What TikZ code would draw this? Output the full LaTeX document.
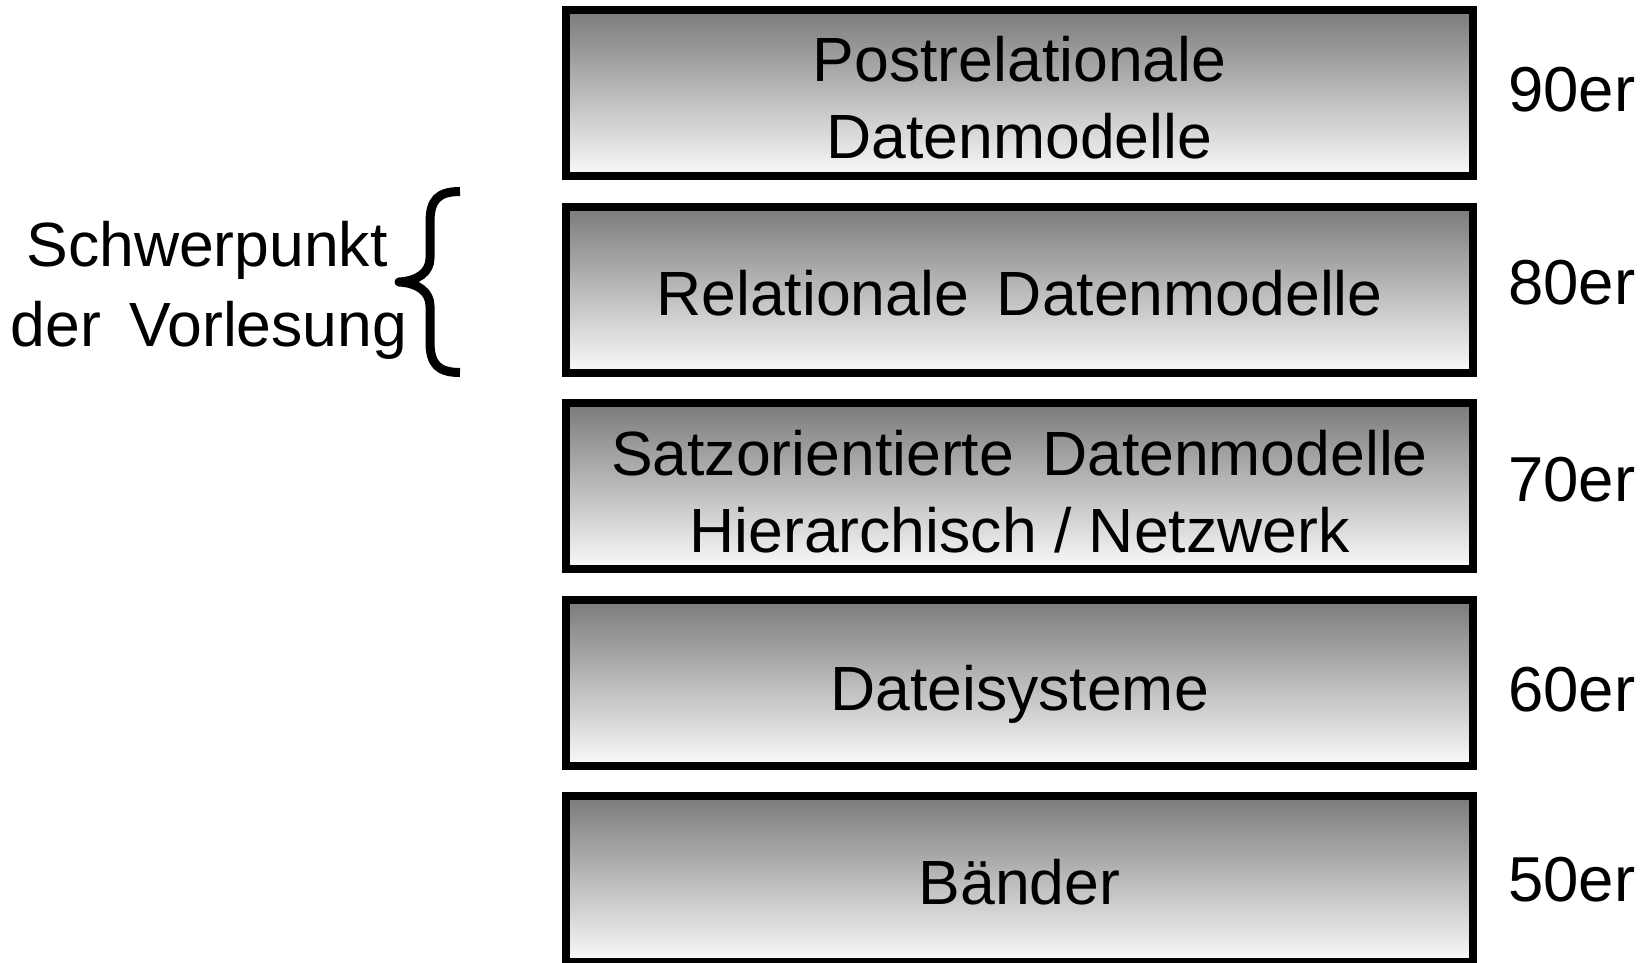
\documentclass[tikz,border=0pt]{standalone}
\usepackage{fontspec}
\setmainfont{Liberation Sans}
\newcommand{\wgap}{\hspace{0.45em}}
\begin{document}
\begin{tikzpicture}[x=1pt,y=-1pt,
  layer/.style={draw=black, line width=8pt, top color=black!52, bottom color=black!2,
    minimum width=907pt, minimum height=166pt, inner sep=0pt, outer sep=0pt},
  txt/.style={inner sep=0pt, font=\fontsize{62.5}{77}\selectfont},
  decade/.style={inner sep=0pt, font=\fontsize{63.5}{77}\selectfont, anchor=base west},
  line/.style={txt, anchor=base}]
\useasboundingbox (0,0) rectangle (1649,962);

% stacked layers, oldest at the bottom
\node[layer] (b1) at (1019.5,93) {};
\node[layer] (b2) at (1019.5,289.5) {};
\node[layer] (b3) at (1019.5,486) {};
\node[layer] (b4) at (1019.5,682.5) {};
\node[layer] (b5) at (1019.5,879) {};

% layer captions
\node[line] (t1a) at (1019.5,81) {Postrelationale};
\node[line] (t1b) at (1019.5,158) {Datenmodelle};
\node[line] (t2) at (1019.5,315.5) {Relationale\wgap Datenmodelle};
\node[line] (t3a) at (1019.5,475) {Satzorientierte\wgap Datenmodelle};
\node[line] (t3b) at (1019.5,552) {Hierarchisch / Netzwerk};
\node[line] (t4) at (1019.5,710) {Dateisysteme};
\node[line] (t5) at (1019.5,904.5) {Bänder};

% decades
\node[decade] (d90) at (1508,111.7) {90er};
\node[decade] (d80) at (1508,304) {80er};
\node[decade] (d70) at (1508,501) {70er};
\node[decade] (d60) at (1508,711.7) {60er};
\node[decade] (d50) at (1508,901) {50er};

% focus of the lecture
\node[line] (s1) at (207,266) {Schwerpunkt};
\node[line] (s2) at (209,346.7) {der\wgap Vorlesung};
\coordinate (bt) at (460,191.5);
\coordinate (bb) at (460,372.5);
\draw[line width=9pt, line join=round] (bt)
  .. controls (438,191.5) and (430,200) .. (430,222) -- (430,258)
  .. controls (430,272) and (418,281) .. (399,282)
  .. controls (418,283) and (430,292) .. (430,306) -- (430,342)
  .. controls (430,364) and (438,372.5) .. (bb);
\end{tikzpicture}
\end{document}
